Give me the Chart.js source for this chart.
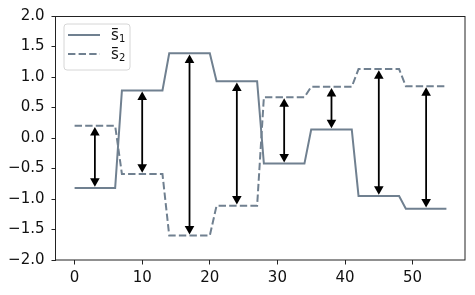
<!DOCTYPE html>
<html>
<head>
<meta charset="utf-8">
<script src="https://cdn.jsdelivr.net/npm/chart.js@4.4.1/dist/chart.umd.min.js"></script>
<style>
html,body{margin:0;padding:0;background:#fff;}
#wrap{width:475px;height:295px;}
</style>
</head>
<body>
<div id="wrap"><canvas id="c" width="475" height="295"></canvas></div>
<script>
// ---- data ----
const xValues = [0,1,2,3,4,5,6,7,8,9,10,11,12,13,14,15,16,17,18,19,20,21,22,23,24,25,26,27,
                 28,29,30,31,32,33,34,35,36,37,38,39,40,41,42,43,44,45,46,47,48,49,50,51,52,53,54,55];
const s1 = [-0.82,-0.82,-0.82,-0.82,-0.82,-0.82,-0.82,
             0.78, 0.78, 0.78, 0.78, 0.78, 0.78, 0.78,
             1.39, 1.39, 1.39, 1.39, 1.39, 1.39, 1.39,
             0.93, 0.93, 0.93, 0.93, 0.93, 0.93, 0.93,
            -0.42,-0.42,-0.42,-0.42,-0.42,-0.42,-0.42,
             0.14, 0.14, 0.14, 0.14, 0.14, 0.14, 0.14,
            -0.95,-0.95,-0.95,-0.95,-0.95,-0.95,-0.95,
            -1.16,-1.16,-1.16,-1.16,-1.16,-1.16,-1.16];
const s2 = [ 0.20, 0.20, 0.20, 0.20, 0.20, 0.20, 0.20,
            -0.59,-0.59,-0.59,-0.59,-0.59,-0.59,-0.59,
            -1.60,-1.60,-1.60,-1.60,-1.60,-1.60,-1.60,
            -1.11,-1.11,-1.11,-1.11,-1.11,-1.11,-1.11,
             0.67, 0.67, 0.67, 0.67, 0.67, 0.67, 0.67,
             0.84, 0.84, 0.84, 0.84, 0.84, 0.84, 0.84,
             1.13, 1.13, 1.13, 1.13, 1.13, 1.13, 1.13,
             0.85, 0.85, 0.85, 0.85, 0.85, 0.85, 0.85];
const arrowX = [3,10,17,24,31,38,45,52];
const xTicks = [0,10,20,30,40,50];
const yTicks = [-2.0,-1.5,-1.0,-0.5,0.0,0.5,1.0,1.5,2.0];
const seriesLabels = ['s', 's'];
const seriesSubs = ['1', '2'];

// ---- styling ----
const LINE_COLOR = '#708090';
const FONT = 'DejaVu Sans';
const FS = 15;
const DASH = [7.4, 3.2];

Chart.defaults.font.family = FONT;
Chart.defaults.font.size = FS;
Chart.defaults.color = '#111';

const pts = arr => xValues.map((x, i) => ({x: x, y: arr[i]}));

const framePlugin = {
  id: 'frameArrowsLegend',
  afterDatasetsDraw(chart) {
    const ctx = chart.ctx;
    const xs = chart.scales.x, ys = chart.scales.y;
    ctx.save();
    ctx.fillStyle = '#000';
    ctx.strokeStyle = '#000';
    ctx.lineWidth = 1.8;
    const HL = 8.5, HW = 4.8, SHR = 1.2;
    arrowX.forEach(xv => {
      const i = xValues.indexOf(xv);
      const px = xs.getPixelForValue(xv);
      const pa = ys.getPixelForValue(s1[i]);
      const pb = ys.getPixelForValue(s2[i]);
      const dir = pb > pa ? 1 : -1;
      const ta = pa + dir * SHR, tb = pb - dir * SHR;
      ctx.beginPath();
      ctx.moveTo(px, ta + dir * HL * 0.8);
      ctx.lineTo(px, tb - dir * HL * 0.8);
      ctx.stroke();
      ctx.beginPath();
      ctx.moveTo(px, ta);
      ctx.lineTo(px - HW, ta + dir * HL);
      ctx.lineTo(px + HW, ta + dir * HL);
      ctx.closePath(); ctx.fill();
      ctx.beginPath();
      ctx.moveTo(px, tb);
      ctx.lineTo(px - HW, tb - dir * HL);
      ctx.lineTo(px + HW, tb - dir * HL);
      ctx.closePath(); ctx.fill();
    });
    ctx.restore();
  },
  afterDraw(chart) {
    const ctx = chart.ctx;
    const a = chart.chartArea;
    ctx.save();
    ctx.strokeStyle = '#222';
    ctx.lineWidth = 1;
    ctx.strokeRect(Math.round(a.left) - 0.5, Math.round(a.top) + 0.5,
                   Math.round(a.right - a.left) + 0.5, Math.round(a.bottom - a.top) - 0.5);
    ctx.restore();
    // legend
    ctx.save();
    const bx = a.left + 8, by = a.top + 8, bw = 66, bh = 46, r = 3;
    ctx.beginPath();
    ctx.moveTo(bx + r, by);
    ctx.arcTo(bx + bw, by, bx + bw, by + bh, r);
    ctx.arcTo(bx + bw, by + bh, bx, by + bh, r);
    ctx.arcTo(bx, by + bh, bx, by, r);
    ctx.arcTo(bx, by, bx + bw, by, r);
    ctx.closePath();
    ctx.fillStyle = 'rgba(255,255,255,0.8)';
    ctx.fill();
    ctx.strokeStyle = '#d6d6d6';
    ctx.lineWidth = 1;
    ctx.stroke();
    const rows = [by + 11, by + 30];
    chart.data.datasets.forEach((ds, k) => {
      const yy = rows[k];
      ctx.beginPath();
      ctx.strokeStyle = LINE_COLOR;
      ctx.lineWidth = 2;
      ctx.setLineDash(ds.borderDash || []);
      ctx.moveTo(bx + 4, yy);
      ctx.lineTo(bx + 36, yy);
      ctx.stroke();
      ctx.setLineDash([]);
      ctx.fillStyle = '#111';
      ctx.textBaseline = 'alphabetic';
      ctx.font = '15px ' + FONT;
      const tx = bx + 47;
      ctx.fillText(seriesLabels[k], tx, yy + 5);
      const sw = ctx.measureText(seriesLabels[k]).width;
      ctx.fillRect(tx + 1, yy - 7, sw - 2, 1.2);
      ctx.font = '10px ' + FONT;
      ctx.fillText(seriesSubs[k], tx + sw + 0.3, yy + 7);
    });
    ctx.restore();
  }
};

const fmt = v => v.toFixed(1).replace('-', '\u2212');

new Chart(document.getElementById('c'), {
  type: 'line',
  data: {
    datasets: [
      {label: 's\u0304\u2081', data: pts(s1), borderColor: LINE_COLOR, borderWidth: 2,
       pointRadius: 0, tension: 0, fill: false},
      {label: 's\u0304\u2082', data: pts(s2), borderColor: LINE_COLOR, borderWidth: 2,
       borderDash: DASH, pointRadius: 0, tension: 0, fill: false}
    ]
  },
  options: {
    responsive: false,
    animation: false,
    devicePixelRatio: 1,
    layout: {padding: {left: 0, top: 16, right: 10, bottom: 0}},
    plugins: {legend: {display: false}, tooltip: {enabled: false}},
    scales: {
      x: {
        type: 'linear', min: -2.75, max: 57.75,
        afterBuildTicks: s => { s.ticks = xTicks.map(v => ({value: v})); },
        afterFit: s => { s.height = 35; },
        border: {display: false},
        grid: {drawOnChartArea: false, drawTicks: true, tickLength: 4.5, color: '#222', lineWidth: 1},
        ticks: {font: {family: FONT, size: FS}, color: '#111', padding: 5, maxRotation: 0,
                callback: v => String(v)}
      },
      y: {
        type: 'linear', min: -2, max: 2,
        afterBuildTicks: s => { s.ticks = yTicks.map(v => ({value: v})); },
        afterFit: s => { s.width = 56; },
        border: {display: false},
        grid: {drawOnChartArea: false, drawTicks: true, tickLength: 4.5, color: '#222', lineWidth: 1},
        ticks: {font: {family: FONT, size: FS}, color: '#111', padding: 7,
                callback: v => fmt(v)}
      }
    }
  },
  plugins: [framePlugin]
});
</script>
</body>
</html>
